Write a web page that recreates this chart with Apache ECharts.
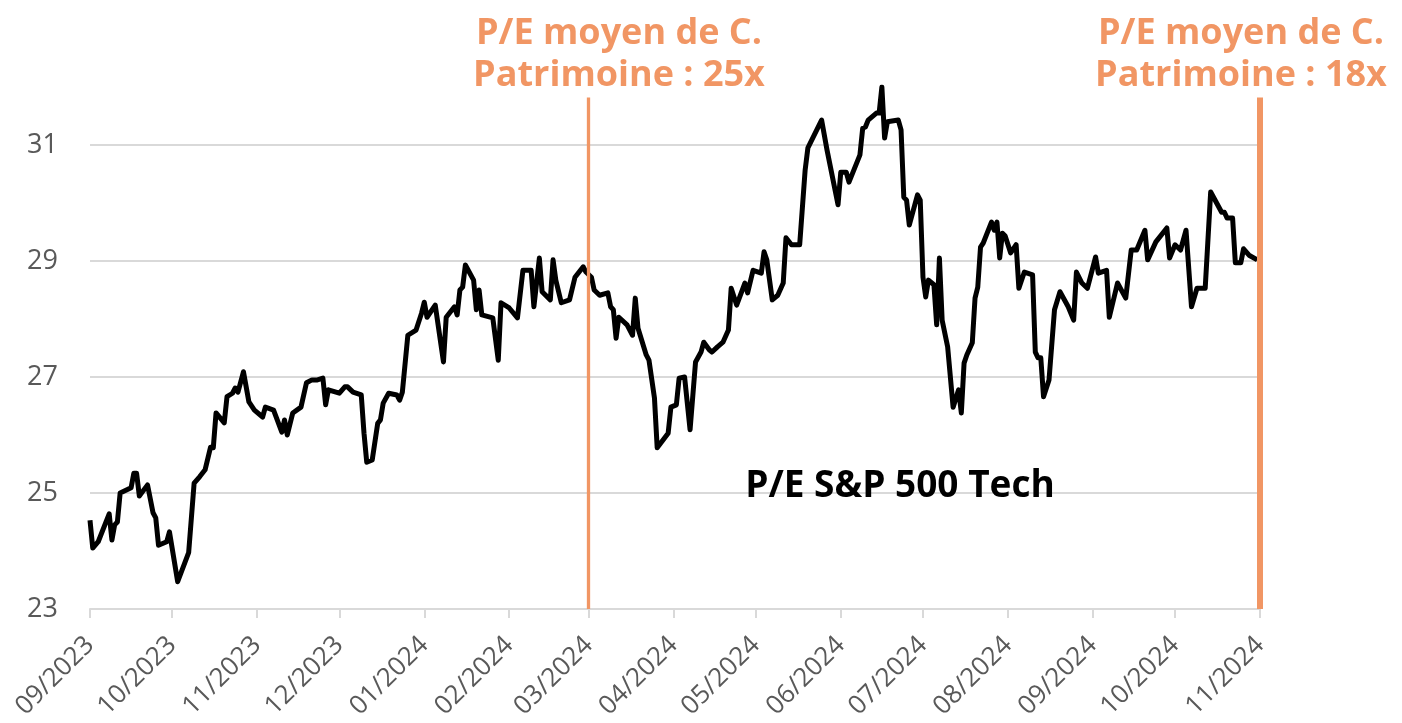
<!DOCTYPE html>
<html>
<head>
<meta charset="utf-8">
<script src="https://cdn.jsdelivr.net/npm/echarts@6/dist/echarts.min.js"></script>
<style>
html,body{margin:0;padding:0;background:#fff;}
#chart{width:1402px;height:723px;}
</style>
</head>
<body>
<div id="chart"></div>
<script>
const dates = [
'2023-09-01','2023-09-02','2023-09-04','2023-09-08','2023-09-09','2023-09-10','2023-09-11','2023-09-12','2023-09-16','2023-09-17',
'2023-09-18','2023-09-19','2023-09-22','2023-09-24','2023-09-25','2023-09-26','2023-09-29','2023-09-30','2023-10-03','2023-10-07',
'2023-10-09','2023-10-11','2023-10-13','2023-10-15','2023-10-16','2023-10-17','2023-10-20','2023-10-21','2023-10-23','2023-10-24',
'2023-10-25','2023-10-27','2023-10-29','2023-10-31','2023-11-03','2023-11-04','2023-11-07','2023-11-10','2023-11-11','2023-11-12',
'2023-11-14','2023-11-17','2023-11-19','2023-11-21','2023-11-23','2023-11-25','2023-11-26','2023-11-27','2023-12-01','2023-12-03',
'2023-12-04','2023-12-06','2023-12-09','2023-12-10','2023-12-11','2023-12-13','2023-12-15','2023-12-16','2023-12-17','2023-12-19',
'2023-12-22','2023-12-23','2023-12-24','2023-12-26','2023-12-29','2023-12-31','2024-01-01','2024-01-02','2024-01-05','2024-01-08',
'2024-01-09','2024-01-12','2024-01-13','2024-01-14','2024-01-15','2024-01-16','2024-01-19','2024-01-20','2024-01-21','2024-01-22',
'2024-01-26','2024-01-28','2024-01-29','2024-02-01','2024-02-04','2024-02-06','2024-02-09','2024-02-10','2024-02-12','2024-02-13',
'2024-02-16','2024-02-17','2024-02-18','2024-02-20','2024-02-23','2024-02-25','2024-02-28','2024-02-29','2024-03-02','2024-03-03',
'2024-03-05','2024-03-08','2024-03-09','2024-03-10','2024-03-11','2024-03-12','2024-03-15','2024-03-17','2024-03-18','2024-03-19',
'2024-03-22','2024-03-23','2024-03-25','2024-03-26','2024-03-30','2024-03-31','2024-04-02','2024-04-03','2024-04-05','2024-04-07',
'2024-04-09','2024-04-11','2024-04-12','2024-04-14','2024-04-15','2024-04-17','2024-04-19','2024-04-21','2024-04-22','2024-04-24',
'2024-04-27','2024-04-28','2024-04-30','2024-05-03','2024-05-04','2024-05-05','2024-05-07','2024-05-09','2024-05-11','2024-05-12',
'2024-05-14','2024-05-17','2024-05-19','2024-05-20','2024-05-25','2024-05-27','2024-05-31','2024-06-01','2024-06-03','2024-06-04',
'2024-06-08','2024-06-09','2024-06-10','2024-06-11','2024-06-14','2024-06-15','2024-06-16','2024-06-17','2024-06-18','2024-06-22',
'2024-06-23','2024-06-24','2024-06-25','2024-06-26','2024-06-29','2024-06-30','2024-07-01','2024-07-02','2024-07-03','2024-07-05',
'2024-07-06','2024-07-07','2024-07-08','2024-07-10','2024-07-12','2024-07-14','2024-07-15','2024-07-16','2024-07-17','2024-07-19',
'2024-07-20','2024-07-21','2024-07-22','2024-07-23','2024-07-26','2024-07-27','2024-07-28','2024-07-29','2024-07-30','2024-07-31',
'2024-08-02','2024-08-04','2024-08-05','2024-08-07','2024-08-10','2024-08-11','2024-08-12','2024-08-13','2024-08-14','2024-08-16',
'2024-08-18','2024-08-20','2024-08-23','2024-08-25','2024-08-26','2024-08-28','2024-08-30','2024-09-02','2024-09-03','2024-09-06',
'2024-09-07','2024-09-10','2024-09-13','2024-09-15','2024-09-17','2024-09-20','2024-09-21','2024-09-24','2024-09-28','2024-09-29',
'2024-10-01','2024-10-03','2024-10-05','2024-10-07','2024-10-09','2024-10-12','2024-10-14','2024-10-18','2024-10-19','2024-10-20',
'2024-10-22','2024-10-23','2024-10-25','2024-10-26','2024-10-28','2024-10-31'
];
const peValues = [
24.53,24.05,24.16,24.64,24.19,24.45,24.50,25.00,25.09,25.34,
25.34,24.95,25.14,24.66,24.57,24.10,24.16,24.33,23.47,23.97,
25.17,25.28,25.40,25.79,25.78,26.38,26.21,26.66,26.72,26.81,
26.74,27.09,26.57,26.43,26.31,26.48,26.43,26.05,26.26,26.00,
26.38,26.48,26.90,26.95,26.95,26.98,26.52,26.78,26.72,26.83,
26.83,26.74,26.69,26.03,25.53,25.57,26.20,26.26,26.55,26.72,
26.69,26.60,26.74,27.72,27.81,28.10,28.29,28.03,28.24,27.26,
28.03,28.21,28.07,28.50,28.55,28.93,28.67,28.16,28.50,28.07,
28.02,27.29,28.28,28.19,28.02,28.84,28.84,28.21,29.05,28.47,
28.33,29.02,28.67,28.28,28.33,28.72,28.90,28.81,28.72,28.50,
28.41,28.45,28.21,28.16,27.67,28.03,27.90,27.72,28.36,27.84,
27.38,27.29,26.64,25.78,26.03,26.48,26.52,26.98,27.00,26.09,
27.26,27.43,27.60,27.47,27.43,27.52,27.60,27.81,28.53,28.24,
28.62,28.45,28.84,28.79,29.16,29.02,28.33,28.41,28.62,29.40,
29.28,29.28,30.57,30.95,31.43,30.91,29.97,30.53,30.53,30.36,
30.83,31.29,31.31,31.43,31.55,31.55,32.00,31.12,31.40,31.43,
31.26,30.10,30.05,29.62,30.14,30.05,28.72,28.38,28.67,28.59,
27.90,29.05,27.98,27.52,26.48,26.78,26.38,27.24,27.38,27.59,
28.36,28.55,29.24,29.31,29.67,29.53,29.67,29.05,29.48,29.43,
29.14,29.28,28.53,28.81,28.76,27.43,27.33,27.33,26.66,26.95,
28.16,28.47,28.21,27.98,28.81,28.62,28.53,29.07,28.79,28.84,
28.03,28.62,28.36,29.19,29.19,29.53,29.02,29.33,29.57,29.05,
29.28,29.19,29.53,28.21,28.53,28.53,30.19,29.84,29.84,29.74,
29.74,28.97,28.97,29.21,29.10,29.02
];
const yTicks = [23, 25, 27, 29, 31];
const xStart = '2023-09-01';
const xEnd = '2024-11-01';
const refLines = [
  {date: '2024-03-01', label: 'P/E moyen de C.\nPatrimoine : 25x', width: 3.3},
  {date: '2024-11-01', label: 'P/E moyen de C.\nPatrimoine : 18x', width: 6}
];
const seriesName = 'P/E S&P 500 Tech';

const ORANGE = '#F19664';
const FONT = '"Open Sans", "Noto Sans", sans-serif';
const chart = echarts.init(document.getElementById('chart'), null, {renderer: 'canvas'});

const data = dates.map((d, i) => [d, peValues[i]]);

chart.setOption({
  animation: false,
  backgroundColor: '#ffffff',
  grid: {left: 90, right: 142, top: 87, bottom: 114, containLabel: false},
  xAxis: {
    type: 'time',
    min: xStart,
    max: xEnd,
    minInterval: 28 * 86400000,
    maxInterval: 31 * 86400000,
    axisLine: {show: true, lineStyle: {color: '#d9d9d9', width: 2}},
    axisTick: {show: true, length: 9, lineStyle: {color: '#d9d9d9', width: 2}},
    splitLine: {show: false},
    axisLabel: {
      rotate: 45,
      margin: 32,
      color: '#595959',
      fontFamily: FONT,
      fontSize: 26,
      formatter: '{MM}/{yyyy}',
      showMinLabel: true,
      showMaxLabel: true,
      hideOverlap: false
    }
  },
  yAxis: {
    type: 'value',
    min: yTicks[0],
    max: 32,
    interval: 2,
    axisLine: {show: false},
    axisTick: {show: false},
    splitLine: {show: true, showMaxLine: false, lineStyle: {color: ['#d9d9d9','#d9d9d9','#d9d9d9','#d9d9d9','#d9d9d9','rgba(0,0,0,0)'], width: 2}},
    axisLabel: {
      margin: 32,
      color: '#595959',
      fontFamily: FONT,
      fontSize: 27,
      formatter: v => (yTicks.indexOf(v) >= 0 ? String(v) : '')
    }
  },
  series: [{
    name: seriesName,
    type: 'line',
    data: data,
    symbol: 'none',
    lineStyle: {color: '#000000', width: 5, join: 'round'},
    z: 3,
    markLine: {
      silent: true,
      symbol: ['none', 'none'],
      label: {show: false},
      data: refLines.map(r => [
        {coord: [r.date, 31.82], lineStyle: {color: ORANGE, width: r.width, type: 'solid'}},
        {coord: [r.date, yTicks[0]]}
      ])
    }
  }],
  graphic: [
    {type: 'text', x: 619, y: 13, z: 100, style: {text: refLines[0].label, fill: ORANGE, font: 'bold 36px ' + FONT, align: 'center', verticalAlign: 'top', lineHeight: 42}},
    {type: 'text', x: 1241, y: 13, z: 100, style: {text: refLines[1].label, fill: ORANGE, font: 'bold 36px ' + FONT, align: 'center', verticalAlign: 'top', lineHeight: 42}},
    {type: 'text', x: 900, y: 463, z: 100, style: {text: seriesName, fill: '#000000', font: 'bold 37px ' + FONT, align: 'center', verticalAlign: 'top', lineHeight: 46}}
  ]
});
</script>
</body>
</html>
